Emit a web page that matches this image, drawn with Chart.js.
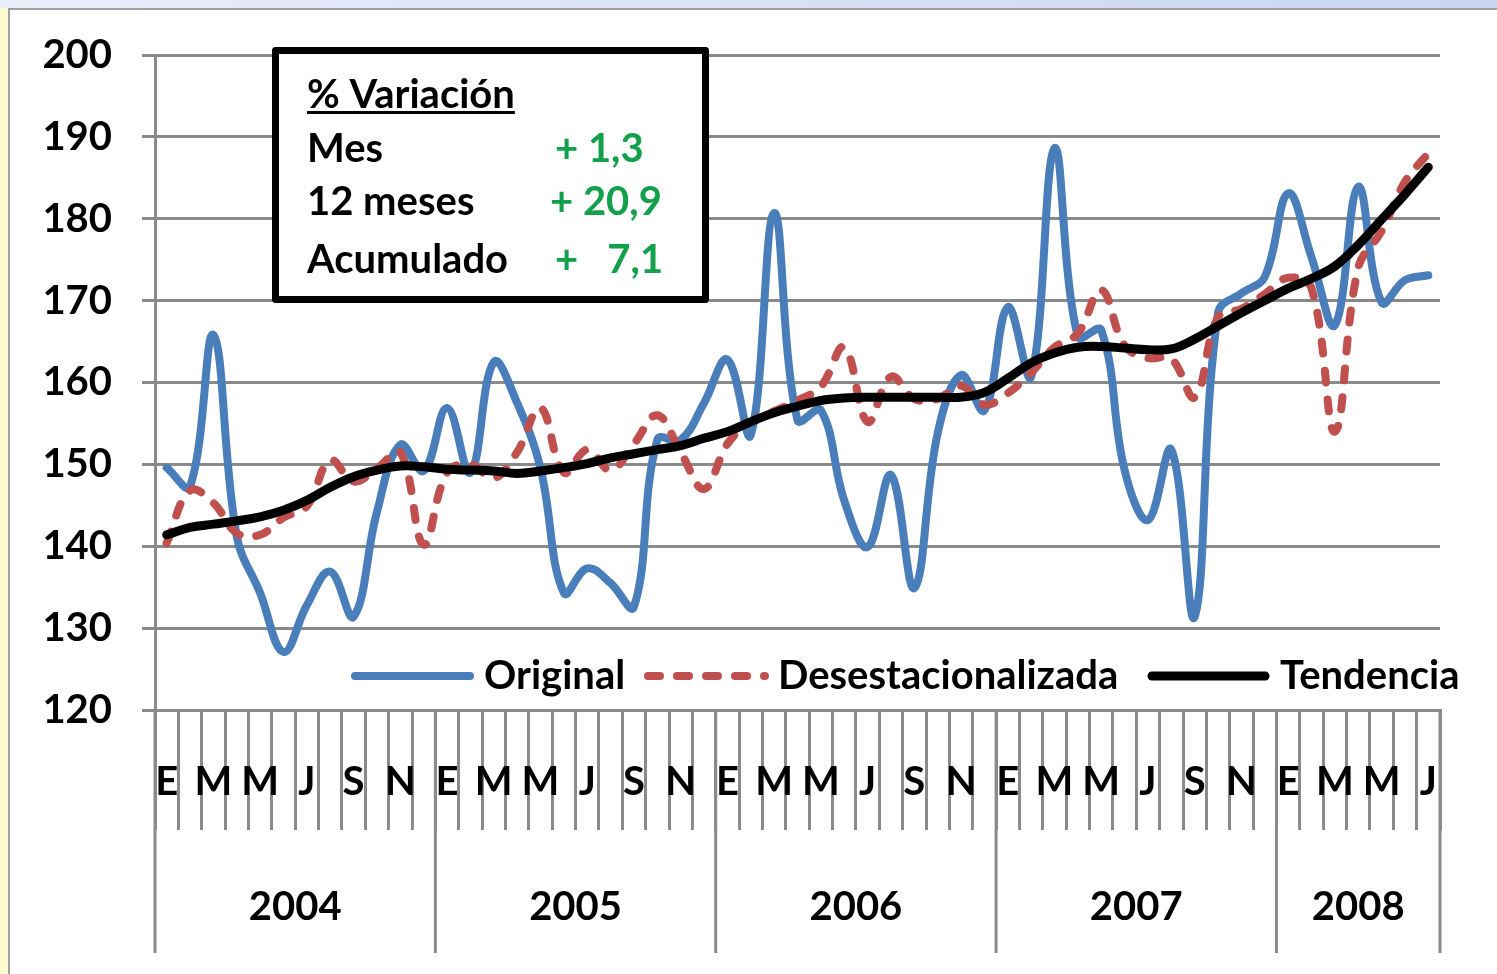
<!DOCTYPE html>
<html><head><meta charset="utf-8">
<script src="https://cdn.jsdelivr.net/npm/chart.js@4.4.1/dist/chart.umd.min.js"></script>
<style>
html,body{margin:0;padding:0;background:#fff;overflow:hidden}
#wrap{position:relative;width:1497px;height:974px}
canvas{display:block}
</style></head>
<body><div id="wrap"><canvas id="c" width="1497" height="974"></canvas></div>
<script>
// ---- data ----
const monthLetters = ['E','F','M','A','M','J','J','A','S','O','N','D'];
const years = ['2004','2005','2006','2007','2008'];
const monthsPerYear = [12,12,12,12,7];
const yTicks = [120,130,140,150,160,170,180,190,200];

const original = [149.6,147.3,165.8,141.2,134.3,127.1,132.8,136.9,131.4,144.2,152.4,149.2,
 156.9,149.0,162.5,157.5,149.5,134.3,137.3,135.5,132.6,153.0,153.0,157.5,
 162.8,153.6,180.7,155.4,156.6,145.6,139.9,148.7,134.9,153.8,160.9,156.6,
 169.2,160.7,188.6,165.6,166.4,149.3,143.2,151.8,131.4,168.5,170.9,172.9,
 183.1,175.3,167.0,183.9,169.8,172.5,173.1];
const desestacionalizada = [140.4,146.8,145.3,141.6,141.4,143.5,144.9,150.5,147.9,149.5,151.5,140.2,
 149.0,150.0,148.3,151.5,156.9,149.0,151.8,149.3,152.5,156.0,151.5,147.0,
 152.5,155.2,156.5,157.8,159.5,164.3,155.2,160.7,158.0,158.0,159.6,157.3,
 158.7,161.2,164.3,166.0,171.3,164.5,163.0,162.9,158.2,168.0,169.0,170.8,
 172.8,171.5,154.0,174.0,178.5,184.5,188.0];
const tendencia = [141.4,142.3,142.7,143.1,143.6,144.4,145.6,147.2,148.5,149.3,149.8,149.7,
 149.4,149.3,149.2,148.9,149.2,149.6,150.1,150.8,151.3,151.8,152.3,153.2,
 154.0,155.2,156.3,157.1,157.8,158.1,158.2,158.2,158.2,158.2,158.2,158.8,
 160.5,162.4,163.6,164.3,164.4,164.2,164.0,164.1,165.3,166.9,168.5,170.0,
 171.5,172.7,174.2,176.8,179.9,183.0,186.3];
const seriesNames = ['Original','Desestacionalizada','Tendencia'];
const boxTitle = '% Variación';
const boxRows = ['Mes','12 meses','Acumulado'];
const boxValues = ['+ 1,3','+ 20,9','+   7,1'];

// build categories
const categories = [], monthIdx = [], yearIdx = [];
years.forEach((y, yi) => {
  for (let m = 0; m < monthsPerYear[yi]; m++) {
    categories.push(monthLetters[m]); monthIdx.push(m); yearIdx.push(yi);
  }
});

const FONT = "Lato, 'Open Sans', sans-serif";
const GRID = '#8a8a8a';
const GREEN = '#12a04a';

const bgPlugin = {
  id: 'bg',
  beforeDraw(chart) {
    const ctx = chart.ctx;
    ctx.save();
    ctx.fillStyle = '#fff';
    ctx.fillRect(0, 0, chart.width, chart.height);
    const g = ctx.createLinearGradient(0, 0, chart.width, 0);
    g.addColorStop(0, '#e9eefb'); g.addColorStop(1, '#c9d6f2');
    ctx.fillStyle = g; ctx.fillRect(0, 0, chart.width, 8);
    ctx.fillStyle = '#fdf8cf'; ctx.fillRect(0, 8, 8, chart.height);
    ctx.strokeStyle = '#a0a0a0'; ctx.lineWidth = 2;
    ctx.beginPath(); ctx.moveTo(8, 9); ctx.lineTo(chart.width, 9);
    ctx.moveTo(9, 9); ctx.lineTo(9, chart.height); ctx.stroke();
    ctx.restore();
  }
};

const yearPlugin = {
  id: 'yearAxis',
  afterDraw(chart) {
    const xs = chart.scales.x, ctx = chart.ctx, top = chart.chartArea.bottom;
    const w = xs.getPixelForValue(1) - xs.getPixelForValue(0);
    const bounds = [0];
    let acc = 0;
    monthsPerYear.forEach(n => { acc += n; bounds.push(acc); });
    const px = i => i < categories.length ? xs.getPixelForValue(i) - w / 2 : xs.getPixelForValue(categories.length - 1) + w / 2;
    ctx.save();
    ctx.strokeStyle = GRID; ctx.lineWidth = 3;
    bounds.forEach(b => {
      const x = px(b);
      ctx.beginPath(); ctx.moveTo(x, top); ctx.lineTo(x, 953); ctx.stroke();
    });
    ctx.fillStyle = '#000'; ctx.font = 'bold 40px ' + FONT;
    ctx.textAlign = 'center'; ctx.textBaseline = 'middle';
    years.forEach((y, yi) => {
      const cx = (px(bounds[yi]) + px(bounds[yi + 1])) / 2;
      ctx.fillText(y, cx, 907);
    });
    ctx.restore();
  }
};

const legendPlugin = {
  id: 'inLegend',
  afterDraw(chart) {
    const ctx = chart.ctx;
    const pos = [[355, 470, 484], [648, 765, 778], [1152, 1265, 1280]];
    const y = 676;
    ctx.save();
    chart.data.datasets.forEach((ds, i) => {
      const [x0, x1, tx] = pos[i];
      ctx.strokeStyle = ds.borderColor; ctx.lineWidth = ds.borderWidth;
      ctx.lineCap = ds.borderCapStyle || 'butt';
      ctx.setLineDash(ds.borderDash || []);
      ctx.beginPath(); ctx.moveTo(x0, y); ctx.lineTo(x1, y); ctx.stroke();
      ctx.setLineDash([]);
      ctx.fillStyle = '#000'; ctx.font = 'bold 40px ' + FONT;
      ctx.textAlign = 'left'; ctx.textBaseline = 'middle';
      ctx.fillText(ds.label, tx, y);
    });
    ctx.restore();
  }
};

const boxPlugin = {
  id: 'infoBox',
  afterDraw(chart) {
    const ctx = chart.ctx;
    ctx.save();
    ctx.fillStyle = '#fff';
    ctx.fillRect(272, 47, 437, 256);
    ctx.strokeStyle = '#000'; ctx.lineWidth = 7; ctx.lineJoin = 'round';
    ctx.strokeRect(275.5, 50.5, 430, 249);
    ctx.font = 'bold 40px ' + FONT; ctx.textBaseline = 'alphabetic'; ctx.textAlign = 'left';
    ctx.fillStyle = '#000';
    ctx.fillText(boxTitle, 307, 108);
    const tw = ctx.measureText(boxTitle).width;
    ctx.fillRect(307, 111, tw, 3);
    const ys = [162, 215, 273];
    const vx = [555, 550, 555];
    boxRows.forEach((r, i) => {
      ctx.fillStyle = '#000'; ctx.fillText(r, 307, ys[i]);
      ctx.fillStyle = GREEN; ctx.fillText(boxValues[i], vx[i], ys[i]);
    });
    ctx.restore();
  }
};

new Chart(document.getElementById('c'), {
  type: 'line',
  data: {
    labels: categories,
    datasets: [
      { label: seriesNames[0], data: original, borderColor: '#4a7ebb', borderWidth: 8, tension: 0.4, pointRadius: 0, order: 3, borderCapStyle: 'round', borderJoinStyle: 'round' },
      { label: seriesNames[1], data: desestacionalizada, borderColor: '#c0504d', borderWidth: 8, borderDash: [12, 17], borderCapStyle: 'round', tension: 0.4, pointRadius: 0, order: 2 },
      { label: seriesNames[2], data: tendencia, borderColor: '#000', borderWidth: 9, tension: 0.4, pointRadius: 0, order: 1, borderCapStyle: 'round' }
    ]
  },
  options: {
    responsive: false,
    animation: false,
    events: [],
    layout: { padding: { top: 55, right: 57, bottom: 19, left: 0 } },
    plugins: { legend: { display: false }, tooltip: { enabled: false }, title: { display: false } },
    scales: {
      x: {
        type: 'category',
        offset: true,
        afterFit(s) { s.height = 245; },
        grid: { display: true, drawOnChartArea: false, drawTicks: true, tickLength: 120, color: GRID, lineWidth: 3, offset: true },
        border: { display: true, color: GRID, width: 3 },
        ticks: {
          autoSkip: false, maxRotation: 0, minRotation: 0, padding: -72,
          color: '#000', font: { family: FONT, size: 40, weight: 'bold' },
          callback: (v, i) => monthIdx[i] % 2 === 0 ? categories[i] : ''
        }
      },
      y: {
        min: yTicks[0], max: yTicks[yTicks.length - 1],
        afterFit(s) { s.width = 155; },
        afterBuildTicks(s) { s.ticks = yTicks.map(v => ({ value: v })); },
        grid: { color: GRID, lineWidth: 3, tickLength: 13, drawTicks: true },
        border: { display: true, color: GRID, width: 3 },
        ticks: { padding: 30, color: '#000', font: { family: FONT, size: 40, weight: 'bold' } }
      }
    }
  },
  plugins: [bgPlugin, yearPlugin, legendPlugin, boxPlugin]
});
</script>
</body></html>
